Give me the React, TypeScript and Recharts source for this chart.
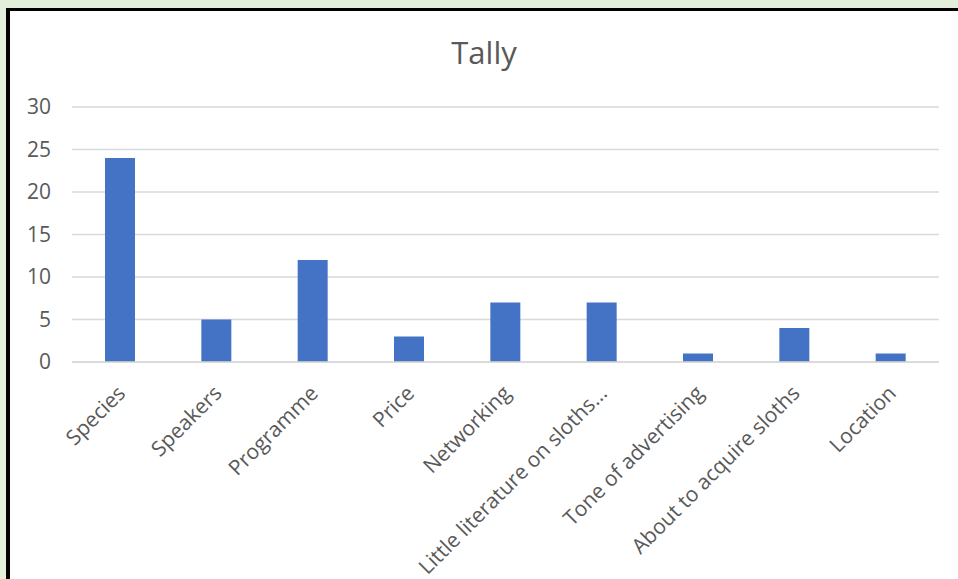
import React from 'react';
import { BarChart, Bar, XAxis, YAxis, CartesianGrid } from 'recharts';

const categories = [
  'Species',
  'Speakers',
  'Programme',
  'Price',
  'Networking',
  'Little literature on sloths...',
  'Tone of advertising',
  'About to acquire sloths',
  'Location',
];
const tally = [24, 5, 12, 3, 7, 7, 1, 4, 1];
const yTicks = [0, 5, 10, 15, 20, 25, 30];

const data = categories.map((name, i) => ({ name, tally: tally[i] }));

const font = '"Open Sans", sans-serif';
const textColor = '#595959';

const App: React.FC = () => (
  <div style={{ position: 'absolute', left: 0, top: 0, width: 958, height: 579, background: '#e2efda', overflow: 'hidden' }}>
    <div
      style={{
        position: 'absolute',
        left: 6,
        top: 8,
        width: 948,
        height: 568,
        background: '#fff',
        borderLeft: '4px solid #000',
        borderTop: '3px solid #000',
      }}
    >
      <div
        style={{
          position: 'absolute',
          left: 0,
          width: 948,
          top: 21,
          textAlign: 'center',
          fontFamily: font,
          fontSize: 31,
          color: textColor,
          lineHeight: '40px',
        }}
      >
        Tally
      </div>
      <BarChart width={948} height={568} data={data} margin={{ top: 96, right: 19, bottom: 17, left: 0 }}>
        <CartesianGrid stroke="#d9d9d9" strokeWidth={1.5} vertical={false} />
        <XAxis
          dataKey="name"
          interval={0}
          height={200}
          tickLine={false}
          axisLine={{ stroke: '#d9d9d9', strokeWidth: 1.5 }}
          angle={-45}
          textAnchor="end"
          tick={{ fill: textColor, fontSize: 21, fontFamily: font, dx: -4 }}
          tickMargin={16}
        />
        <YAxis
          width={62}
          domain={[0, 30]}
          ticks={yTicks}
          axisLine={false}
          tickLine={false}
          tickMargin={15}
          tick={{ fill: textColor, fontSize: 21, fontFamily: font }}
        />
        <Bar dataKey="tally" fill="#4472c4" barSize={30} isAnimationActive={false} />
      </BarChart>
    </div>
  </div>
);

export default App;
